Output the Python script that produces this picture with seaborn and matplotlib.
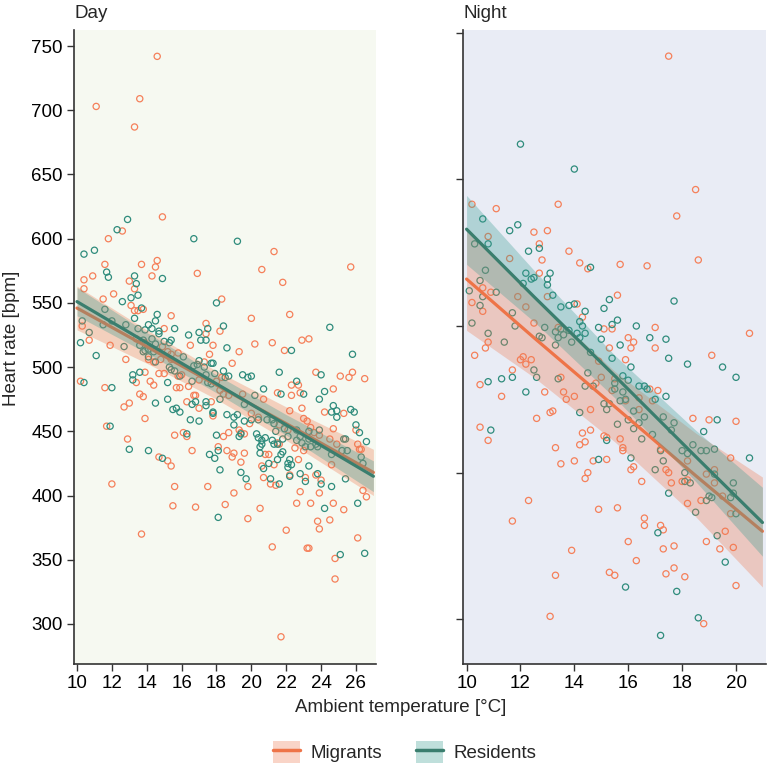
import numpy as np
import pandas as pd
import matplotlib
matplotlib.use("Agg")
import matplotlib.pyplot as plt
import seaborn as sns
from matplotlib.patches import Patch
from matplotlib.lines import Line2D
from matplotlib.legend_handler import HandlerTuple

# ---- points: (ambient temperature, heart rate) ----
day_mig_t = [14.6, 11.1, 13.6, 13.3, 14.9, 12.6, 11.8, 11.6, 14.6, 14.5, 13.7, 14.3, 16.9, 10.9, 10.4, 10.4, 13.0, 13.3, 11.5, 12.1,
             13.1, 13.3, 13.5, 13.8, 15.4, 15.0, 17.4, 18.3, 10.3, 21.3, 20.6, 25.7, 21.8, 20.0, 22.2,
             10.7, 11.9, 12.8, 13.4, 13.9, 14.1, 14.4, 14.9, 15.2, 15.4, 15.4, 14.8, 14.7, 15.0, 13.9, 13.4, 14.2, 14.4, 10.2, 11.6,
             13.6, 13.8, 13.0, 12.7, 13.9, 11.7, 12.9, 15.7, 15.9, 15.8, 16.0, 16.4, 16.3, 16.7, 16.8, 17.0, 17.4, 17.6, 17.8, 16.5,
             15.8, 17.0, 17.7, 17.8, 18.0, 18.1, 15.6, 16.1, 16.3, 16.6, 14.7, 15.2, 15.4, 15.6, 12.0, 15.5, 16.8, 17.5, 13.7,
             18.2, 20.2, 21.2, 21.9, 22.9, 23.3, 19.3, 17.3, 18.9, 23.7, 25.1, 25.6, 25.8, 26.5, 22.3, 22.7, 24.7, 21.5, 22.3, 22.8,
             20.7, 19.5, 18.7, 18.2, 18.4, 18.3, 20.0, 20.4, 19.9, 22.2, 23.0, 23.2, 23.4, 23.6, 23.9, 24.2, 24.5, 24.7, 24.9, 25.3,
             26.0, 26.1, 26.2, 26.3, 26.4, 26.6, 25.3, 21.6, 22.1, 21.5, 22.5, 23.0, 22.9, 24.6, 18.4, 18.7, 18.6, 18.9, 19.0, 19.6,
             19.3, 19.4, 19.6, 21.0, 20.8, 19.4, 20.6, 20.7, 21.3, 21.6, 22.7, 22.2, 21.1, 21.4, 19.8, 19.0, 18.5, 20.5, 19.8, 22.8,
             22.6, 23.4, 23.1, 23.7, 24.0, 23.9, 24.7, 23.8, 23.9, 24.5, 22.0, 21.2, 23.2, 23.3, 24.8, 24.8, 26.1, 21.7]
day_mig_hr = [742, 703, 709, 687, 617, 606, 600, 580, 583, 578, 580, 571, 573, 571, 568, 561, 567, 561, 553, 557,
              548, 544, 544, 545, 540, 530, 534, 553, 532, 590, 576, 578, 566, 538, 541,
              521, 517, 506, 522, 519, 506, 504, 516, 512, 510, 506, 506, 495, 495, 496, 488, 489, 486, 489, 484,
              479, 477, 472, 469, 460, 454, 444, 484, 484, 493, 494, 485, 473, 478, 478, 468, 526, 510, 517, 517,
              511, 490, 473, 462, 489, 438, 447, 449, 446, 435, 430, 427, 423, 407, 409, 392, 391, 407, 370,
              528, 518, 519, 513, 521, 522, 512, 504, 503, 496, 493, 492, 496, 491, 486, 486, 483, 480, 478, 480,
              475, 479, 478, 482, 479, 492, 464, 461, 456, 466, 460, 458, 453, 449, 447, 465, 444, 452, 440, 464,
              451, 440, 436, 436, 404, 399, 389, 455, 451, 441, 437, 435, 468, 424, 446, 449, 435, 430, 433, 433,
              451, 449, 448, 432, 432, 426, 423, 414, 424, 440, 428, 416, 409, 408, 407, 402, 393, 390, 382, 403,
              394, 394, 414, 416, 412, 402, 394, 380, 374, 381, 373, 360, 359, 359, 351, 335, 367, 290]

day_res_t = [12.9, 12.3, 11.0, 10.4, 16.7, 11.7, 11.8, 14.9, 13.3, 13.4, 13.5, 13.1, 12.6, 13.7, 11.6, 14.6, 13.3, 14.5, 14.1, 12.8,
             11.5, 10.3, 18.0, 13.5, 15.6, 17.5, 19.2, 18.4, 24.5,
             10.2, 10.7, 11.1, 10.4, 12.0, 12.7, 13.9, 14.3, 14.7, 14.7, 14.3, 13.8, 13.6, 13.9, 13.8, 14.1, 14.5, 15.0, 15.3, 15.4,
             16.4, 17.0, 17.1, 17.4, 14.1, 14.4, 14.5, 16.1, 15.9, 15.3, 15.4, 15.6, 15.2, 16.6, 16.9, 17.0, 16.7, 17.3, 17.8, 17.9,
             17.5, 17.7, 13.2, 13.2, 13.6, 12.0, 14.5, 15.2, 15.5, 15.7, 15.9, 16.5, 16.6, 16.8, 17.0, 17.4, 17.4, 17.8, 17.8, 18.0,
             18.2, 18.1, 17.6, 17.9, 11.9, 13.0, 14.1, 14.9, 16.3,
             18.6, 17.7, 17.4, 18.4, 18.5, 18.7, 19.5, 19.8, 20.0, 21.6, 22.3, 22.6, 23.0, 20.7, 20.2, 21.7, 24.0, 24.2, 23.9, 24.7,
             24.6, 24.9, 24.9, 25.7, 25.9, 25.8, 26.0, 26.2, 26.3, 26.4, 26.6, 18.2, 18.6, 19.0, 19.2, 19.6, 20.0, 20.4, 21.2, 20.9,
             21.3, 19.6, 19.0, 21.4, 21.8, 22.1, 21.9, 20.3, 20.4, 20.6, 20.8, 19.3, 19.4, 18.1, 20.5, 20.6, 20.5, 21.2, 21.3, 21.5,
             21.7, 21.5, 21.8, 22.2, 22.1, 22.1, 22.3, 22.2, 21.0, 20.7, 21.1, 21.6, 19.4, 19.7, 22.8, 23.3, 23.1, 22.6, 22.8, 22.9,
             22.6, 23.1, 23.4, 23.7, 23.8, 23.3, 23.9, 23.8, 24.0, 24.2, 24.6, 25.4, 25.5, 25.2, 26.1, 25.1, 26.5, 24.6, 25.3, 25.4,
             23.3]
day_res_hr = [615, 607, 591, 588, 600, 574, 570, 569, 571, 565, 556, 554, 551, 546, 545, 541, 538, 536, 533, 533,
              533, 536, 550, 530, 530, 530, 598, 532, 531,
              519, 527, 509, 488, 536, 516, 529, 530, 528, 526, 522, 521, 517, 513, 512, 514, 518, 520, 519, 521,
              525, 527, 521, 521, 508, 512, 504, 508, 493, 500, 498, 497, 488, 489, 502, 505, 501, 500, 503, 495,
              488, 487, 494, 490, 496, 484, 472, 475, 467, 468, 465, 459, 471, 473, 458, 473, 470, 465, 464, 447,
              420, 383, 432, 429, 454, 436, 435, 429, 448,
              515, 503, 494, 497, 492, 493, 494, 492, 493, 496, 513, 489, 479, 483, 478, 479, 494, 481, 475, 470,
              465, 466, 461, 467, 465, 510, 455, 449, 430, 425, 442, 475, 463, 461, 463, 471, 459, 459, 459, 459,
              456, 458, 455, 450, 444, 446, 452, 448, 445, 443, 445, 446, 448, 435, 438, 440, 433, 443, 440, 440,
              432, 428, 434, 428, 425, 422, 424, 415, 425, 421, 413, 409, 418, 413, 417, 423, 411, 451, 446, 441,
              443, 438, 438, 440, 438, 444, 451, 417, 409, 390, 407, 413, 435, 435, 394, 354, 355, 432, 444, 444,
              450]

night_mig_t = [10.2, 11.1, 13.4, 10.8, 12.5, 13.0, 12.7, 12.8, 11.6, 13.8, 14.2, 14.5, 12.7, 10.6, 10.2, 10.6, 10.9, 11.9, 12.2, 12.5,
               13.0, 14.1, 14.3, 13.4, 15.1, 15.4, 10.8, 10.7, 15.3,
               17.5, 18.5, 17.8, 18.6, 15.7, 16.7, 15.6, 16.0, 16.2, 16.1, 17.0, 17.0, 20.5,
               10.3, 10.5, 11.3, 10.5, 10.8, 11.7, 12.0, 12.1, 12.2, 12.4, 12.9, 12.6, 13.1, 13.2, 13.5, 13.6, 13.7, 14.0, 13.3, 13.5,
               14.0, 14.3, 14.4, 14.2, 14.7, 14.5, 14.4, 14.6, 14.6, 14.9, 15.0, 14.8, 15.4, 15.1, 15.2, 15.2, 12.3, 11.7, 14.9, 13.9,
               13.3, 15.3, 15.5, 13.1,
               19.1, 15.9, 15.5, 15.9, 16.4, 16.4, 16.8, 17.1, 16.9, 18.4, 19.0, 20.0, 15.7, 15.8, 15.8, 16.2, 16.1, 17.2, 16.5, 17.4,
               17.5, 17.6, 18.0, 18.2, 18.2, 18.2, 18.7, 18.9, 19.2, 19.2, 19.5, 19.8, 19.8, 19.6, 19.9, 19.4, 15.6, 16.6, 16.6, 17.2,
               17.3, 16.0, 17.3, 17.7, 16.3, 17.7, 17.4, 18.1, 18.9, 20.0, 18.8]
night_mig_hr = [583, 580, 583, 561, 564, 565, 556, 545, 546, 551, 543, 539, 536, 526, 516, 510, 523, 520, 513, 502,
                520, 515, 506, 499, 498, 498, 489, 485, 485,
                684, 593, 575, 545, 542, 541, 521, 492, 489, 485, 499, 485, 495,
                480, 460, 452, 431, 422, 470, 477, 479, 474, 477, 455, 437, 441, 442, 465, 455, 450, 452, 417, 406,
                408, 427, 421, 419, 408, 400, 396, 429, 443, 476, 465, 461, 456, 425, 424, 409, 381, 367, 375, 347,
                330, 332, 330, 302,
                480, 477, 464, 449, 451, 443, 457, 456, 449, 437, 436, 435, 423, 417, 415, 404, 402, 416, 394, 402,
                400, 393, 394, 395, 408, 379, 381, 399, 393, 402, 384, 410, 372, 360, 349, 348, 376, 369, 364, 364,
                361, 353, 348, 350, 340, 335, 331, 329, 353, 323, 297]

night_res_t = [12.0, 14.0, 10.6, 11.6, 11.9, 10.3, 10.8, 12.3, 12.7, 10.7, 10.5, 10.1, 10.6, 10.5, 11.1, 10.2, 10.8, 11.4, 11.7, 11.8,
               12.2, 12.4, 12.5, 12.1, 13.1, 13.0, 13.0, 13.2, 13.5, 13.8, 14.0, 14.4, 14.2, 14.3, 14.4, 14.6, 15.1, 14.9, 15.0, 15.3,
               15.4, 12.9, 13.3, 13.5, 13.6, 13.8, 13.4, 13.9, 12.7, 12.8, 13.3, 14.1, 14.2,
               15.6, 16.3, 17.7, 15.7, 16.8, 17.4,
               10.8, 11.3, 11.7, 12.2, 10.9, 12.5, 12.6, 13.4, 14.2, 14.4, 14.5, 14.7, 15.1, 15.2, 15.3, 15.2, 14.9, 14.6, 15.4,
               16.1, 17.5, 18.2, 19.5, 20.0, 15.8, 16.0, 15.5, 15.5, 15.8, 16.4, 16.6, 16.7, 17.4, 17.0, 15.7, 15.9, 16.2, 16.6, 16.4,
               16.2, 17.3, 17.7, 17.6, 16.0, 15.6, 16.9, 16.5, 18.8, 19.3, 18.4, 18.0, 18.2, 18.7, 18.9, 19.2, 17.2, 17.3, 16.1, 17.0,
               18.1, 18.1, 18.3, 17.5, 19.2, 19.9, 19.9, 19.0, 19.1, 18.9, 19.8, 20.0, 18.5, 17.1, 19.3, 20.5, 19.6, 17.8, 15.9, 18.6,
               17.2]
night_res_hr = [624, 607, 573, 565, 569, 556, 556, 551, 553, 538, 531, 524, 520, 514, 523, 502, 495, 489, 509, 500,
                536, 532, 533, 529, 536, 532, 528, 521, 513, 514, 515, 510, 503, 500, 495, 540, 512, 499, 491, 518,
                501, 499, 496, 498, 494, 497, 492, 489, 493, 492, 487, 495, 492,
                504, 500, 517, 487, 492, 491,
                462, 464, 465, 455, 429, 470, 465, 464, 441, 459, 468, 459, 447, 443, 447, 422, 409, 482, 478,
                472, 478, 474, 472, 465, 466, 463, 461, 457, 455, 459, 459, 457, 452, 450, 449, 450, 442, 438, 434,
                430, 438, 434, 429, 436, 433, 426, 423, 428, 436, 419, 415, 413, 415, 415, 416, 415, 408, 410, 402,
                400, 394, 393, 386, 399, 393, 386, 384, 383, 381, 383, 372, 373, 359, 357, 410, 339, 319, 322, 301,
                289]

# ---- fitted lines and 95% bands ----
day_fit_t = [10, 14, 18, 22, 27]
day_mig_fit = [546, 516, 486, 456, 418]
day_mig_lo = [529, 503, 475, 443, 400]
day_mig_hi = [563, 529, 497, 469, 436]
day_res_fit = [551, 519, 487, 455, 415]
day_res_lo = [540, 511, 480, 447, 403]
day_res_hi = [562, 527, 494, 463, 427]

night_fit_t = [10, 12.5, 15.5, 18.5, 20.98]
night_mig_fit = [532, 492, 445, 398, 360]
night_mig_lo = [497, 465, 421, 370, 322]
night_mig_hi = [567, 520, 469, 427, 397]
night_res_fit = [566, 520, 466, 411, 366]
night_res_lo = [542, 503, 451, 394, 343]
night_res_hi = [589, 538, 480, 429, 390]

# ---- styling ----
mig_pt = "#F5805A"
res_pt = "#2F8C7C"
mig_line = "#EE7448"
res_line = "#3A7E6E"
mig_band = "#EE7A52"
res_band = "#3A9C92"
band_alpha = 0.32
fs = 13.5

sns.set_style("ticks")
plt.rcParams["font.family"] = ["Liberation Sans", "DejaVu Sans"]
plt.rcParams["axes.edgecolor"] = "#333333"
plt.rcParams["xtick.color"] = "#333333"
plt.rcParams["ytick.color"] = "#333333"
plt.rcParams["xtick.labelcolor"] = "black"
plt.rcParams["ytick.labelcolor"] = "black"

fig = plt.figure(figsize=(7.68, 7.68), dpi=100)
ax_day = fig.add_axes([0.0964, 0.1354, 0.3932, 0.8255])
ax_night = fig.add_axes([0.6033, 0.1354, 0.3940, 0.8255])

panels = [
    dict(ax=ax_day, title="Day", bg="#F6F9F1",
         mig=(day_mig_t, day_mig_hr), res=(day_res_t, day_res_hr),
         fit_t=day_fit_t, mfit=(day_mig_fit, day_mig_lo, day_mig_hi), rfit=(day_res_fit, day_res_lo, day_res_hi),
         xlim=(9.83, 27.15), ylim=(268.8, 762.5), xt=range(10, 27, 2), yt=range(300, 751, 50)),
    dict(ax=ax_night, title="Night", bg="#E9ECF5",
         mig=(night_mig_t, night_mig_hr), res=(night_res_t, night_res_hr),
         fit_t=night_fit_t, mfit=(night_mig_fit, night_mig_lo, night_mig_hi), rfit=(night_res_fit, night_res_lo, night_res_hi),
         xlim=(9.88, 21.11), ylim=(269.5, 701.8), xt=range(10, 21, 2), yt=range(300, 701, 100)),
]

for p in panels:
    ax = p["ax"]
    ax.set_facecolor(p["bg"])
    mig = pd.DataFrame({"temp": p["mig"][0], "hr": p["mig"][1]})
    res = pd.DataFrame({"temp": p["res"][0], "hr": p["res"][1]})

    sns.scatterplot(data=mig, x="temp", y="hr", ax=ax, marker="o", s=20,
                    fc="none", ec=mig_pt, linewidth=0.9, zorder=2)
    sns.scatterplot(data=res, x="temp", y="hr", ax=ax, marker="o", s=20,
                    fc="none", ec=res_pt, linewidth=0.9, zorder=2)

    ax.fill_between(p["fit_t"], p["mfit"][1], p["mfit"][2], color=mig_band, alpha=band_alpha, lw=0, zorder=3)
    sns.lineplot(x=p["fit_t"], y=p["mfit"][0], ax=ax, color=mig_line, lw=2.3, zorder=4)
    ax.fill_between(p["fit_t"], p["rfit"][1], p["rfit"][2], color=res_band, alpha=band_alpha, lw=0, zorder=5)
    sns.lineplot(x=p["fit_t"], y=p["rfit"][0], ax=ax, color=res_line, lw=2.3, zorder=6)

    ax.set_xlim(*p["xlim"])
    ax.set_ylim(*p["ylim"])
    ax.set_xticks(list(p["xt"]))
    ax.set_yticks(list(p["yt"]))
    ax.set_xlabel("")
    ax.set_ylabel("")
    ax.set_title(p["title"], loc="left", fontsize=fs, pad=9)
    ax.tick_params(labelsize=fs, length=5, width=1, pad=3)
    for s in ["top", "right"]:
        ax.spines[s].set_visible(False)
    for s in ["left", "bottom"]:
        ax.spines[s].set_linewidth(1.2)

ax_night.tick_params(labelleft=False)

fig.text(0.522, 0.0794, "Ambient temperature [°C]", ha="center", va="center", fontsize=fs)
fig.text(0.0156, 0.56, "Heart rate [bpm]", ha="center", va="center", rotation=90, fontsize=fs)

handles = [
    (Patch(facecolor=mig_band, alpha=band_alpha, edgecolor="none"), Line2D([], [], color=mig_line, lw=2.5)),
    (Patch(facecolor=res_band, alpha=band_alpha, edgecolor="none"), Line2D([], [], color=res_line, lw=2.5)),
]
fig.legend(handles, ["Migrants", "Residents"], loc="center", bbox_to_anchor=(0.527, 0.021),
           ncol=2, frameon=False, fontsize=fs, handlelength=1.45, handleheight=1.4,
           columnspacing=1.8, handletextpad=0.55,
           handler_map={tuple: HandlerTuple(ndivide=1, pad=0)})

fig.savefig("out.png", dpi=100)
